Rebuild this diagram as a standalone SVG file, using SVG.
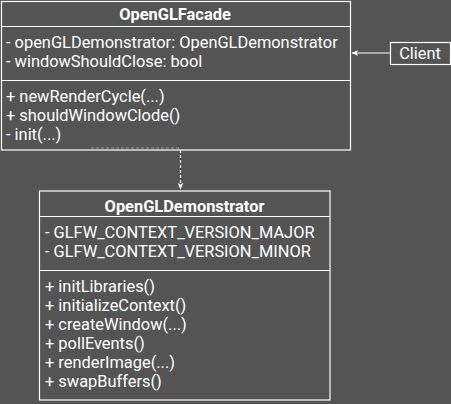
<svg xmlns="http://www.w3.org/2000/svg" width="451" height="404" viewBox="0 0 451 404">
<defs>
<style>
.box{fill:none;stroke:#ffffff;stroke-width:1.2}
.t{font-family:Roboto,"Open Sans",sans-serif;font-size:16.4px;fill:#ffffff}
.b{font-weight:bold;text-anchor:middle}
.ln{stroke:#ffffff;stroke-width:1.2;fill:none}
</style>
<marker id="ah" viewBox="0 0 10 10" refX="9" refY="5" markerWidth="6" markerHeight="6" orient="auto">
<path d="M0,1 L10,5 L0,9 L3,5 Z" fill="#ffffff"/>
</marker>
</defs>
<rect width="451" height="404" fill="#545454"/>
<g id="connectors">
<line class="ln" x1="180.5" y1="150" x2="180.5" y2="189" stroke-dasharray="3,2" marker-end="url(#ah)"/>
<line class="ln" x1="390" y1="53" x2="352" y2="53" marker-end="url(#ah)"/>
<line x1="91" y1="148" x2="179" y2="148" stroke="#9a9a9a" stroke-width="1" stroke-dasharray="3,2"/>
</g>
<g id="OpenGLFacade">
<rect class="box" x="1.5" y="1.5" width="349" height="148.5"/>
<line class="ln" x1="1.5" y1="26.5" x2="350.5" y2="26.5"/>
<line class="ln" x1="1.5" y1="80.5" x2="350.5" y2="80.5"/>
<text class="t b" x="175" y="20">OpenGLFacade</text>
<text class="t" x="6" y="48">- openGLDemonstrator: OpenGLDemonstrator</text>
<text class="t" x="6" y="67">- windowShouldClose: bool</text>
<text class="t" x="6" y="102">+ newRenderCycle(...)</text>
<text class="t" x="6" y="121">+ shouldWindowClode()</text>
<text class="t" x="6" y="140">- init(...)</text>
</g>
<g id="OpenGLDemonstrator">
<rect class="box" x="39.5" y="191" width="290.5" height="209"/>
<line class="ln" x1="39.5" y1="216.5" x2="330" y2="216.5"/>
<line class="ln" x1="39.5" y1="270.5" x2="330" y2="270.5"/>
<text class="t b" x="184.5" y="212">OpenGLDemonstrator</text>
<text class="t" x="45" y="238">- GLFW_CONTEXT_VERSION_MAJOR</text>
<text class="t" x="45" y="257">- GLFW_CONTEXT_VERSION_MINOR</text>
<text class="t" x="45" y="292">+ initLibraries()</text>
<text class="t" x="45" y="311">+ initializeContext()</text>
<text class="t" x="45" y="330">+ createWindow(...)</text>
<text class="t" x="45" y="349">+ pollEvents()</text>
<text class="t" x="45" y="368">+ renderImage(...)</text>
<text class="t" x="45" y="387">+ swapBuffers()</text>
</g>
<g id="Client">
<rect class="box" x="390.5" y="42.5" width="60" height="22"/>
<text class="t" x="420" y="59" text-anchor="middle">Client</text>
</g>
</svg>
